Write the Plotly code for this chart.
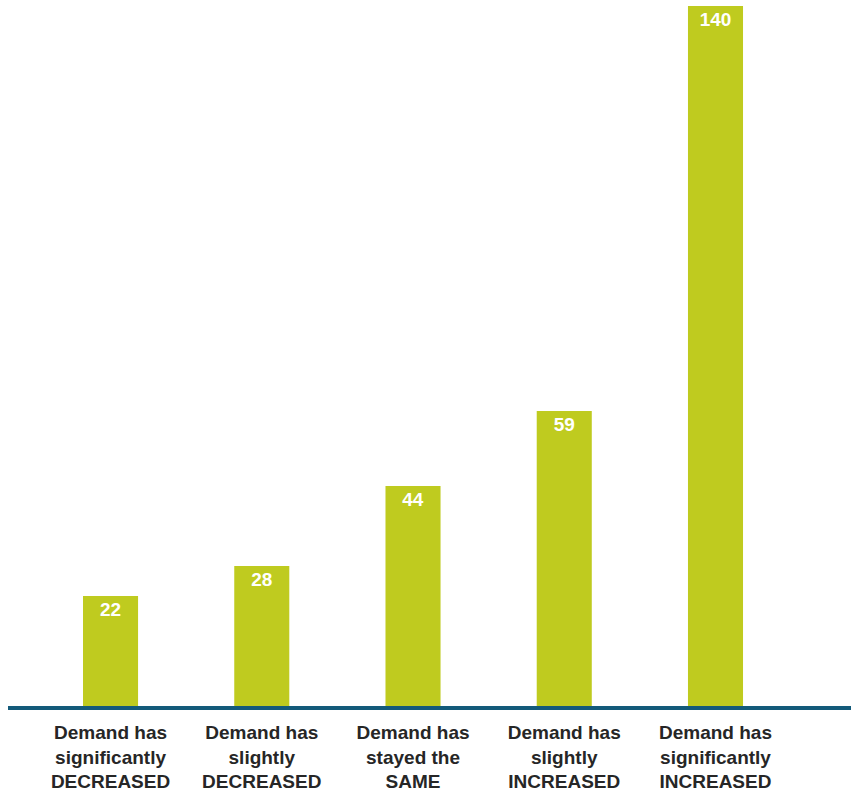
import plotly.graph_objects as go

categories = [
    "Demand has<br>significantly<br>DECREASED",
    "Demand has<br>slightly<br>DECREASED",
    "Demand has<br>stayed the<br>SAME",
    "Demand has<br>slightly<br>INCREASED",
    "Demand has<br>significantly<br>INCREASED",
]
counts = [22, 28, 44, 59, 140]

BAR_COLOR = "#bfcb1f"
AXIS_COLOR = "#135a7a"
TEXT_COLOR = "#262626"
FONT = "Liberation Sans, Arial, sans-serif"

fig = go.Figure(
    go.Bar(
        x=categories,
        y=counts,
        width=0.364,
        marker=dict(color=BAR_COLOR, line=dict(width=0)),
        text=[str(v) for v in counts],
        textposition="inside",
        insidetextanchor="end",
        textangle=0,
        textfont=dict(family=FONT, size=19, color="white", weight="bold"),
        cliponaxis=False,
    )
)

fig.update_layout(
    width=851,
    height=793,
    margin=dict(l=8, r=0, t=6, b=87),
    paper_bgcolor="white",
    plot_bgcolor="white",
    showlegend=False,
    font=dict(family=FONT),
    xaxis=dict(
        type="category",
        range=[-0.678, 4.896],
        showgrid=False,
        zeroline=False,
        showline=False,
        ticks="",
        ticklabelstandoff=13,
        tickfont=dict(family=FONT, size=19, color=TEXT_COLOR, weight="bold"),
    ),
    yaxis=dict(
        range=[0, 140],
        visible=False,
        showgrid=False,
        zeroline=False,
    ),
    # baseline drawn in paper coordinates so the full stroke stays visible
    shapes=[
        dict(
            type="line",
            xref="paper",
            yref="paper",
            x0=0,
            x1=1,
            y0=-0.003,
            y1=-0.003,
            line=dict(color=AXIS_COLOR, width=4),
            layer="above",
        )
    ],
)

fig.write_html("out.html")
